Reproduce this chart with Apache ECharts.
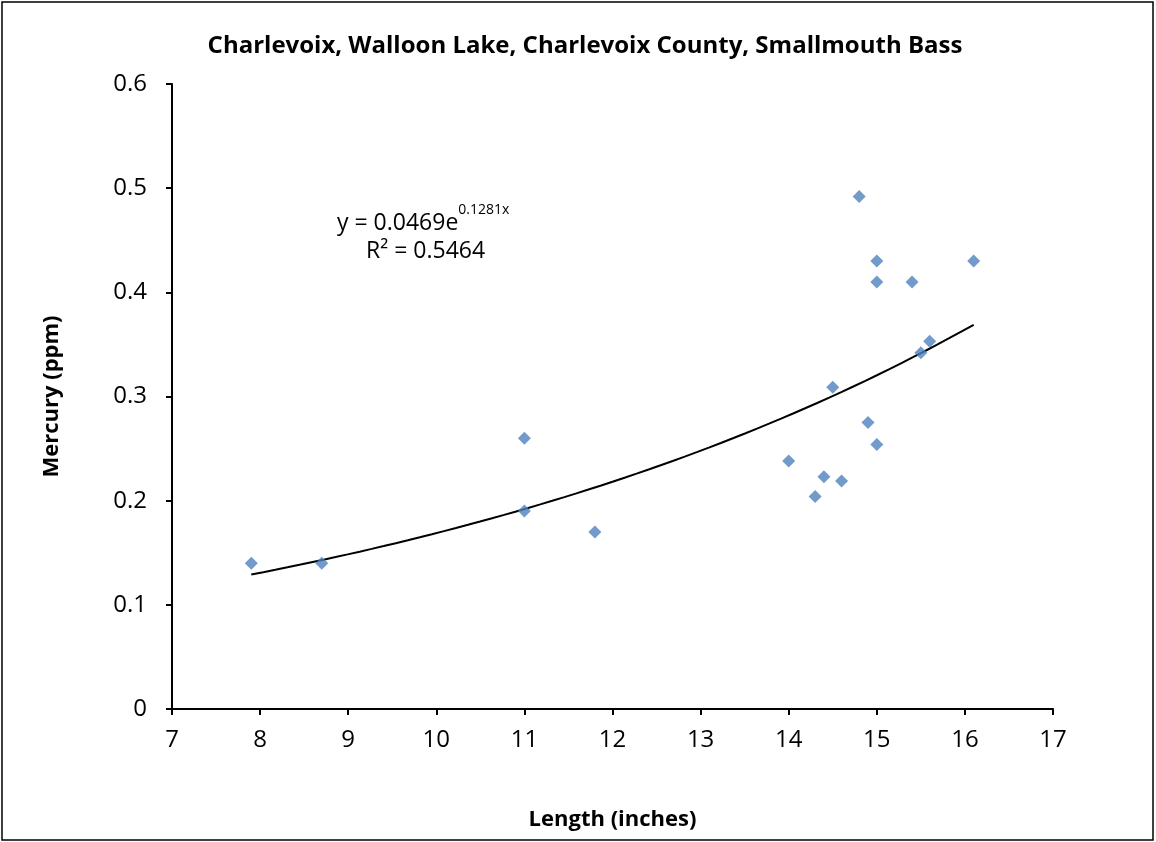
<!DOCTYPE html>
<html><head><meta charset="utf-8">
<script src="https://cdn.jsdelivr.net/npm/echarts@6/dist/echarts.min.js"></script>
<style>html,body{margin:0;padding:0;background:#fff}#c{width:1156px;height:842px}</style>
</head><body><div id="c"></div>
<script>
const lengths = [7.9, 8.7, 11, 11, 11.8, 14, 14.3, 14.4, 14.6, 14.5, 14.8, 14.9, 15, 15, 15, 15.4, 15.5, 15.6, 16.1];
const mercury = [0.14, 0.14, 0.26, 0.19, 0.17, 0.238, 0.204, 0.223, 0.219, 0.309, 0.492, 0.275, 0.43, 0.41, 0.254, 0.41, 0.342, 0.353, 0.43];
const trendA = 0.0469, trendB = 0.1281;
const xTicks = [7, 8, 9, 10, 11, 12, 13, 14, 15, 16, 17];
const yTicks = [0, 0.1, 0.2, 0.3, 0.4, 0.5, 0.6];

const points = lengths.map((x, i) => [x, mercury[i]]);
const xMin = Math.min(...lengths), xMax = Math.max(...lengths);
const trend = [];
const steps = 60;
for (let i = 0; i <= steps; i++) {
  const x = xMin + (xMax - xMin) * i / steps;
  trend.push([x, trendA * Math.exp(trendB * x)]);
}
const font = "'Open Sans', sans-serif";
const chart = echarts.init(document.getElementById('c'));
chart.setOption({
  animation: false,
  title: {
    text: 'Charlevoix, Walloon Lake, Charlevoix County, Smallmouth Bass',
    left: 580, top: 29, textAlign: 'center',
    textStyle: {fontFamily: font, fontWeight: 'bold', fontSize: 24, color: '#000'}
  },
  grid: {left: 172, right: 103, top: 84, bottom: 133},
  xAxis: {
    type: 'value', min: xTicks[0], max: xTicks[xTicks.length - 1], interval: 1,
    name: 'Length (inches)', nameLocation: 'middle', nameGap: 100,
    nameTextStyle: {fontFamily: font, fontWeight: 'bold', fontSize: 22, color: '#000'},
    axisLine: {lineStyle: {color: '#000', width: 2}},
    axisTick: {show: true, inside: false, length: 6, lineStyle: {color: '#000', width: 2}},
    axisLabel: {fontFamily: font, fontSize: 24, color: '#000', margin: 19},
    splitLine: {show: false}
  },
  yAxis: {
    type: 'value', min: yTicks[0], max: yTicks[yTicks.length - 1], interval: 0.1,
    name: 'Mercury (ppm)', nameLocation: 'middle', nameGap: 109, nameRotate: 90,
    nameTextStyle: {fontFamily: font, fontWeight: 'bold', fontSize: 22, color: '#000'},
    axisLine: {show: true, lineStyle: {color: '#000', width: 2}},
    axisTick: {show: true, inside: false, length: 6, lineStyle: {color: '#000', width: 2}},
    axisLabel: {fontFamily: font, fontSize: 24, color: '#000', margin: 25},
    splitLine: {show: false}
  },
  series: [
    {type: 'line', data: trend, showSymbol: false, smooth: false,
     lineStyle: {color: '#000', width: 2}, z: 2},
    {type: 'scatter', data: points, symbol: 'diamond', symbolSize: 13,
     itemStyle: {color: '#4F81BD'}, z: 3}
  ],
  graphic: [
    {type: 'rect', shape: {x: 2, y: 2, width: 1151, height: 838},
     style: {fill: 'none', stroke: '#000', lineWidth: 1.5}, silent: true},
    {type: 'text', left: 337, top: 203,
     style: {text: '{a|y = 0.0469e}{s|0.1281x}', rich: {
       a: {fontFamily: font, fontSize: 23, color: '#000', verticalAlign: 'bottom', lineHeight: 32},
       s: {fontFamily: font, fontSize: 14, color: '#000', verticalAlign: 'top', lineHeight: 32, padding: [0,0,16,0]}
     }}},
    {type: 'text', left: 366, top: 240,
     style: {text: 'R² = 0.5464', fontFamily: font, fontSize: 23, fill: '#000'}}
  ]
});
</script></body></html>
